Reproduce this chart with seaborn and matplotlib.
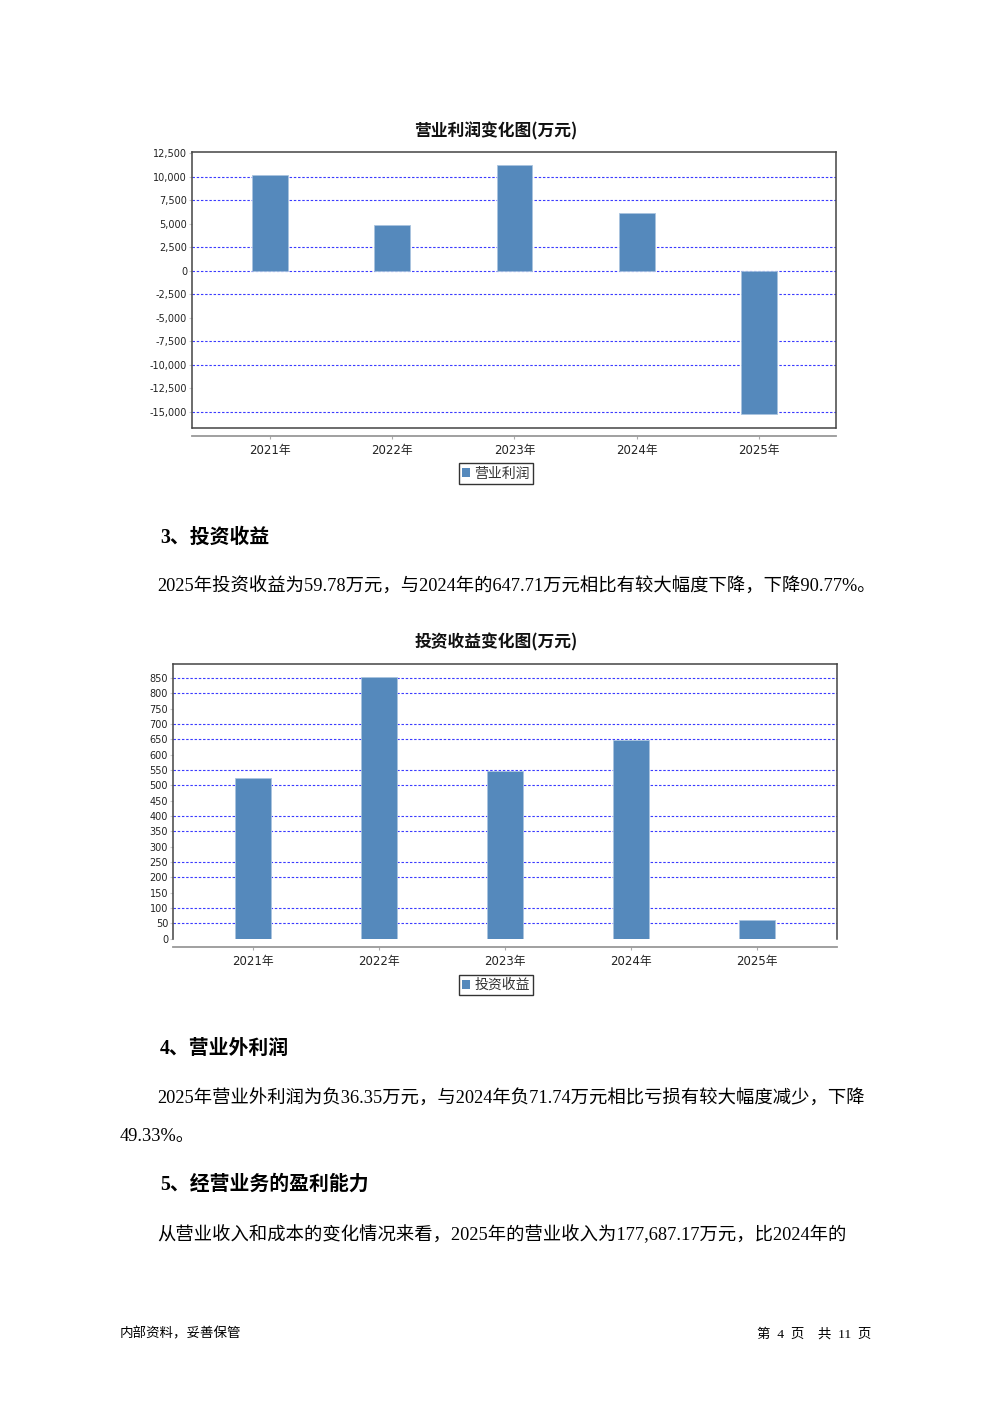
import matplotlib
matplotlib.use('Agg')
import matplotlib.pyplot as plt
import matplotlib.patches as mpatches
import seaborn as sns

# chart data
years = ['2021年', '2022年', '2023年', '2024年', '2025年']
op_profit = [10200, 4870, 11300, 6150, -15250]
inv_income = [523, 855, 547, 647.71, 59.78]
profit_ticks = list(range(-15000, 12501, 2500))
income_ticks = list(range(0, 851, 50))
# gridlines that actually show up in the scanned page
profit_grid = [10000, 7500, 2500, 0, -2500, -7500, -10000, -15000]
income_grid = [850, 800, 700, 650, 550, 500, 400, 350, 250, 200, 100, 50]

W, H = 992, 1403
BAR = '#5589bc'
GRID = '#3b3bff'
SANS = ['DejaVu Sans', 'Noto Sans CJK SC']
SERIF = ['Liberation Serif', 'Noto Sans CJK SC']

sns.set_style('white')
plt.rcParams['font.family'] = SANS
plt.rcParams['axes.grid'] = False

fig = plt.figure(figsize=(W / 100, H / 100), dpi=100)
fig.patch.set_facecolor('white')


def box(l, t, r, b):
    return [l / W, 1 - b / H, (r - l) / W, (b - t) / H]


def text_at(x, y, s, **kw):
    fig.text(x / W, 1 - y / H, s, va='center', **kw)


def draw_chart(rect, values, ticks, ylim, grid_vals, xlim, width, offset_pt,
               bottom_line, title, title_y, legend_label, legend_y):
    ax = fig.add_axes(rect)
    sns.barplot(x=years, y=values, color=BAR, width=width, saturation=1,
                errorbar=None, edgecolor='#a9c4df', linewidth=0.6, ax=ax,
                zorder=2)
    ax.grid(False)
    ax.set_xlim(*xlim)
    ax.set_ylim(*ylim)
    ax.set_xlabel('')
    ax.set_ylabel('')
    ax.set_yticks(ticks)
    ax.set_yticklabels([f'{t:,}' for t in ticks])
    for g in grid_vals:
        ax.axhline(g, color=GRID, lw=0.8, ls=(0, (2.2, 1.6)), zorder=1)
    for side in ['left', 'top', 'right']:
        ax.spines[side].set_color('#444444')
        ax.spines[side].set_linewidth(1.1)
    ax.spines['bottom'].set_position(('outward', offset_pt))
    ax.spines['bottom'].set_color('#999999')
    ax.spines['bottom'].set_linewidth(1.3)
    if bottom_line:
        ax.plot([0, 1], [0, 0], transform=ax.transAxes, color='#444444',
                lw=1.1, clip_on=False, zorder=3)
    ax.tick_params(axis='y', length=2, color='#cccccc', labelsize=7,
                   labelcolor='#222222', pad=1.5, left=True)
    ax.tick_params(axis='x', length=2.5, color='#aaaaaa', labelsize=8.5,
                   labelcolor='#222222', pad=3, bottom=True)
    text_at(496, title_y, title, ha='center', fontsize=12.1, fontweight='bold',
            family=['Noto Sans CJK SC'], color='#111111')
    handle = mpatches.Patch(facecolor=BAR, edgecolor='none', label=legend_label)
    leg = fig.legend(handles=[handle], loc='center',
                     bbox_to_anchor=(496 / W, 1 - legend_y / H),
                     frameon=True, fancybox=False, edgecolor='black',
                     handlelength=0.6, handleheight=0.6, handletextpad=0.3,
                     borderpad=0.25, prop={'family': ['Noto Sans CJK SC'], 'size': 10})
    leg.get_frame().set_linewidth(1.0)
    for t in leg.get_texts():
        t.set_color('#333333')
    return ax


# 营业利润 chart
draw_chart(box(192, 152, 836, 428), op_profit, profit_ticks, (-16750, 12650),
           profit_grid, (-0.638, 4.63), 0.294, 6.0, True,
           '营业利润变化图(万元)', 131, '营业利润', 473.5)

# 投资收益 chart
draw_chart(box(173, 664, 837, 938.7), inv_income, income_ticks, (0, 896),
           income_grid, (-0.636, 4.639), 0.286, 6.2, False,
           '投资收益变化图(万元)', 642, '投资收益', 985)

# page text
head = dict(fontsize=14.3, fontweight='bold', family=SERIF, color='black')
body = dict(fontsize=13.2, family=SERIF, color='black')

text_at(160, 538, '3、投资收益', **head)
text_at(157, 587, '2025年投资收益为59.78万元，与2024年的647.71万元相比有较大幅度下降，下降90.77%。', **body)
text_at(160, 1049, '4、营业外利润', **head)
text_at(157, 1099, '2025年营业外利润为负36.35万元，与2024年负71.74万元相比亏损有较大幅度减少，下降', **body)
text_at(120, 1137, '49.33%。', **body)
text_at(160, 1185, '5、经营业务的盈利能力', **head)
text_at(157, 1235, '从营业收入和成本的变化情况来看，2025年的营业收入为177,687.17万元，比2024年的', **body)

text_at(120, 1334, '内部资料，妥善保管', fontsize=9.7, family=SERIF, color='black')
text_at(871, 1334, '第  4  页    共  11  页', ha='right', fontsize=9.7, family=SERIF, color='black')

fig.savefig('out.png', dpi=100, facecolor='white')
